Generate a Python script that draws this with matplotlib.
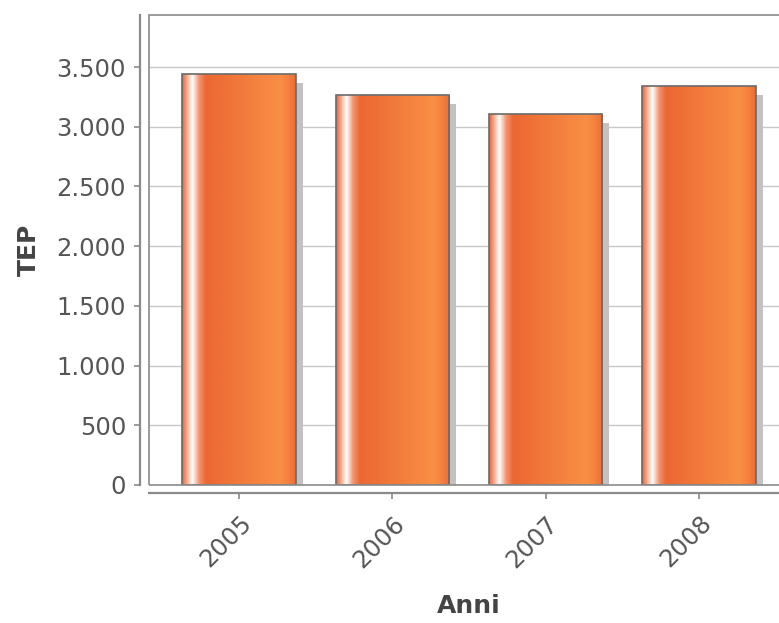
import numpy as np
import matplotlib
matplotlib.use("Agg")
import matplotlib.pyplot as plt
from matplotlib.patches import Rectangle
from matplotlib.colors import LinearSegmentedColormap
from matplotlib import transforms
from matplotlib.ticker import FuncFormatter

# data
years = ["2005", "2006", "2007", "2008"]
tep = [3440, 3265, 3105, 3340]
yticks = [0, 500, 1000, 1500, 2000, 2500, 3000, 3500]

W, H, DPI = 779, 623, 100
fig = plt.figure(figsize=(W / DPI, H / DPI), dpi=DPI)
fig.patch.set_facecolor("white")

ax = fig.add_axes([149 / W, 138 / H, 640 / W, 470 / H])
ax.set_facecolor("white")

x = np.arange(len(years))
bar_w = 0.74

# horizontal gridlines
for v in yticks[1:]:
    ax.axhline(v, color="#c8c8c8", lw=1.0, zorder=0)

# cylinder-like horizontal gradient for the bars
grad = LinearSegmentedColormap.from_list(
    "bar_grad",
    [(0.00, "#e9643a"),
     (0.05, "#f6b79c"),
     (0.09, "#ffffff"),
     (0.15, "#f29470"),
     (0.21, "#ec6733"),
     (0.55, "#f27c3c"),
     (0.86, "#f98f45"),
     (0.93, "#f5813f"),
     (1.00, "#ec6b35")])
row = np.linspace(0, 1, 256).reshape(1, -1)

shadow_tr = transforms.offset_copy(ax.transData, fig=fig, x=7, y=-9, units="dots")
for xi, v in zip(x, tep):
    x0 = xi - bar_w / 2
    # drop shadow
    ax.add_patch(Rectangle((x0, 0), bar_w, v, transform=shadow_tr,
                           facecolor="#c2c2c2", edgecolor="none", zorder=1))
    im = ax.imshow(row, cmap=grad, aspect="auto",
                   extent=[x0, x0 + bar_w, 0, v], zorder=2,
                   interpolation="bilinear")
    outline = Rectangle((x0, 0), bar_w, v, facecolor="none",
                        edgecolor="#6a6a6a", lw=1.2, zorder=3)
    ax.add_patch(outline)
    im.set_clip_path(outline)

ax.set_xlim(-0.587, len(years) - 1 + 0.587)
ax.set_ylim(0, 3936)

# plot box outline
ax.add_patch(Rectangle((0, 0), 1, 1, transform=ax.transAxes, fill=False,
                       edgecolor="#8a8a8a", lw=1.2, zorder=5, clip_on=False))

for s in ["top", "right"]:
    ax.spines[s].set_visible(False)
ax.spines["left"].set_position(("outward", 6.5))
ax.spines["bottom"].set_position(("outward", 6))
for s in ["left", "bottom"]:
    ax.spines[s].set_color("#8a8a8a")
    ax.spines[s].set_linewidth(1.6)

ax.set_yticks(yticks)
ax.yaxis.set_major_formatter(FuncFormatter(lambda v, p: f"{int(v):,}".replace(",", ".")))
ax.set_xticks(x)
ax.set_xticklabels(years, rotation=45, ha="right", va="top",
                   rotation_mode="anchor")

ax.tick_params(axis="y", length=4, width=1.2, color="#8a8a8a",
               labelsize=17.5, labelcolor="#555555", pad=6)
ax.tick_params(axis="x", length=4, width=1.2, color="#8a8a8a",
               labelsize=17.5, labelcolor="#555555", pad=9)

ax.set_ylabel("TEP", fontsize=18, fontweight="bold", color="#444444", labelpad=11)
ax.set_xlabel("Anni", fontsize=18, fontweight="bold", color="#444444", labelpad=16)

fig.savefig("out.png", dpi=DPI, facecolor="white")
